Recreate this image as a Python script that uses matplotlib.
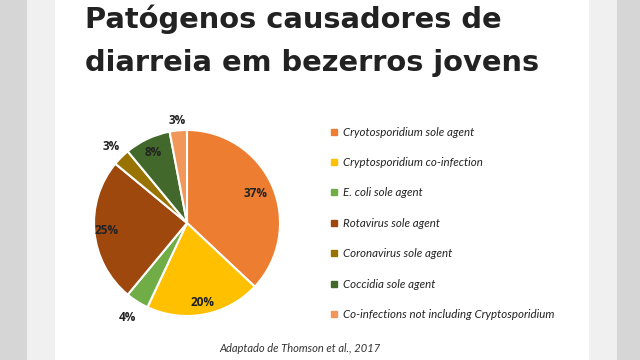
import matplotlib.pyplot as plt
from matplotlib.patches import Rectangle
from matplotlib.lines import Line2D
import numpy as np

title_lines = ["Patógenos causadores de", "diarreia em bezerros jovens"]
source = "Adaptado de Thomson et al., 2017"

agents = [
    "Cryotosporidium sole agent",
    "Cryptosporidium co-infection",
    "E. coli sole agent",
    "Rotavirus sole agent",
    "Coronavirus sole agent",
    "Coccidia sole agent",
    "Co-infections not including Cryptosporidium",
]
shares = [37, 20, 4, 25, 3, 8, 3]

colors = ["#ED7D31", "#FFC000", "#70AD47", "#9E480E", "#997300", "#43682B", "#F1975A"]
label_dist = [0.80, 0.87, 1.20, 0.87, 1.16, 0.84, 1.11]

fig = plt.figure(figsize=(6.4, 3.6), dpi=100, facecolor="white")

# slide frame on the sides
for x0, w, c in [(0, 27, "#d6d6d6"), (27, 28, "#f0f0f0"),
                 (589, 28, "#f0f0f0"), (617, 23, "#d6d6d6")]:
    fig.patches.append(Rectangle((x0 / 640, 0), w / 640, 1, transform=fig.transFigure,
                                 facecolor=c, edgecolor="none", zorder=0))

for line, base in zip(title_lines, [28, 71]):
    fig.text(85 / 640, 1 - base / 360, line, ha="left", va="baseline", fontsize=20.8,
             fontweight="bold", family="DejaVu Sans", color="#222222")

ax = fig.add_axes([66.1 / 640, 16.1 / 360, 241.8 / 640, 241.8 / 360])
wedges, _ = ax.pie(shares, colors=colors, startangle=90, counterclock=False,
                   wedgeprops=dict(edgecolor="white", linewidth=1.5))
ax.set_xlim(-1.3, 1.3)
ax.set_ylim(-1.3, 1.3)
ax.set_aspect("equal")
ax.axis("off")

for w, v, d in zip(wedges, shares, label_dist):
    a = np.deg2rad((w.theta1 + w.theta2) / 2)
    ax.text(d * np.cos(a), d * np.sin(a), f"{v}%", ha="center", va="center",
            fontsize=8.5, fontweight="bold", color="#222222", family="Open Sans")

handles = [Line2D([], [], marker="s", linestyle="none", markersize=4,
                  markerfacecolor=c, markeredgecolor=c) for c in colors]
fig.legend(handles, agents, loc="upper left", bbox_to_anchor=(325 / 640, 1 - 121 / 360),
           frameon=False, prop=dict(family="Lato", style="italic", size=8.3),
           labelcolor="#222222", handlelength=0.6, handletextpad=0.45,
           labelspacing=1.68, borderpad=0)

fig.text(300 / 640, 1 - 349 / 360, source, ha="center", va="center", fontsize=8,
         style="italic", family="Lato", color="#333333")

plt.savefig("out.png", dpi=100, facecolor="white")
